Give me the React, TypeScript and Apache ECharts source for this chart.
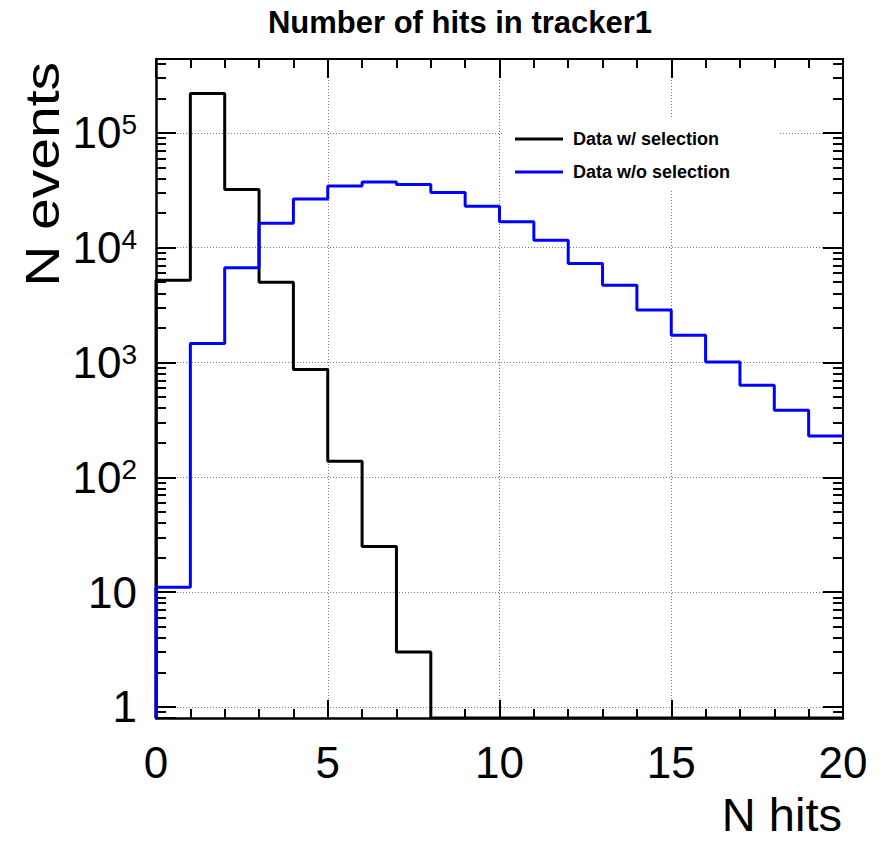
import React, { useEffect, useRef } from "react";
import * as echarts from "echarts";

// ---------- data ----------
const BIN_EDGES = [0, 1, 2, 3, 4, 5, 6, 7, 8, 9, 10, 11, 12, 13, 14, 15, 16, 17, 18, 19, 20];
const WITH_SELECTION = [5200, 220000, 32100, 5000, 870, 138, 25, 3, 0, 0, 0, 0, 0, 0, 0, 0, 0, 0, 0, 0];
const WITHOUT_SELECTION = [11, 1460, 6670, 16300, 26600, 34500, 37400, 35500, 30300, 23000, 16800, 11600, 7280, 4710, 2860, 1730, 1010, 634, 384, 229];
const SERIES_NAMES = ["Data w/ selection", "Data w/o selection"];
const X_TICK_LABELS = [0, 5, 10, 15, 20];
const Y_TICK_LABELS = [1, 10, 100, 1000, 10000, 100000];
const TITLE = "Number of hits in tracker1";
const X_TITLE = "N hits";
const Y_TITLE = "N events";

const X_MIN = 0;
const X_MAX = 20;
const X_INTERVAL = 5;
const Y_MIN = 0.8;
const Y_MAX = 4.4e5;

const SANS = '"Liberation Sans", Arial, Helvetica, sans-serif';

function histPoints(values: number[]): [number, number][] {
  const pts: [number, number][] = [[BIN_EDGES[0], Y_MIN]];
  values.forEach((v, i) => pts.push([BIN_EDGES[i], v > 0 ? v : Y_MIN]));
  const last = values[values.length - 1];
  pts.push([BIN_EDGES[values.length], last > 0 ? last : Y_MIN]);
  return pts;
}

const gridLine = {
  show: true,
  showMinLine: false,
  showMaxLine: false,
  lineStyle: { color: "#777", width: 1, type: [1, 2] as any },
};

const tickStyle = { color: "#000", width: 2 };

function xAxisDef(position: "bottom" | "top") {
  const bottom = position === "bottom";
  return {
    type: "value",
    position,
    min: X_MIN,
    max: X_MAX,
    interval: X_INTERVAL,
    axisLine: { show: true, onZero: false, lineStyle: { color: "#000", width: bottom ? 2.5 : 2 } },
    axisTick: { show: true, inside: true, length: bottom ? 18 : 19, lineStyle: tickStyle },
    minorTick: { show: true, splitNumber: 5, length: 9, lineStyle: tickStyle },
    axisLabel: bottom
      ? {
          show: true,
          margin: 22,
          color: "#000",
          fontFamily: SANS,
          fontSize: 44,
          showMinLabel: true,
          showMaxLabel: true,
          customValues: X_TICK_LABELS,
        }
      : { show: false },
    splitLine: bottom ? gridLine : { show: false },
    minorSplitLine: { show: false },
  };
}

function yAxisDef(position: "left" | "right") {
  const left = position === "left";
  return {
    type: "log",
    logBase: 10,
    position,
    min: Y_MIN,
    max: Y_MAX,
    axisLine: { show: true, onZero: false, lineStyle: { color: "#000", width: left ? 2.5 : 2 } },
    axisTick: { show: true, inside: true, length: 20, lineStyle: tickStyle },
    minorTick: { show: true, splitNumber: 9, length: 10, lineStyle: tickStyle },
    axisLabel: left
      ? {
          show: true,
          margin: 19,
          customValues: Y_TICK_LABELS,
          formatter: (v: number) => {
            const e = Math.round(Math.log10(v));
            if (e === 0) return "{b|1}";
            if (e === 1) return "{b|10}";
            return `{b|10}{s|${e}}`;
          },
          rich: {
            b: { fontFamily: SANS, fontSize: 44, lineHeight: 44, color: "#000" },
            s: { fontFamily: SANS, fontSize: 28, lineHeight: 10, color: "#000", verticalAlign: "top" },
          },
        }
      : { show: false },
    splitLine: left ? gridLine : { show: false },
    minorSplitLine: { show: false },
  };
}

export default function App() {
  const ref = useRef<HTMLDivElement>(null);
  useEffect(() => {
    document.body.style.margin = "0";
    if (!ref.current) return;
    const chart = echarts.init(ref.current, undefined, { renderer: "svg" });
    chart.setOption({
      animation: false,
      backgroundColor: "#fff",
      title: {
        text: TITLE,
        left: 460,
        top: 7,
        textAlign: "center",
        padding: 0,
        textStyle: { fontFamily: SANS, fontWeight: "bold", fontSize: 31, color: "#000" },
      },
      legend: {
        data: SERIES_NAMES,
        orient: "vertical",
        left: 502,
        top: 117,
        padding: [13, 50, 9, 13],
        backgroundColor: "#fff",
        borderWidth: 0,
        icon: "rect",
        itemWidth: 48,
        itemHeight: 3,
        itemGap: 15,
        selectedMode: false,
        textStyle: { fontFamily: SANS, fontWeight: "bold", fontSize: 18, color: "#000", padding: [0, 0, 0, 5] },
      },
      grid: { left: 156, top: 59, width: 687, height: 659, containLabel: false },
      xAxis: [xAxisDef("bottom"), xAxisDef("top")],
      yAxis: [yAxisDef("left"), yAxisDef("right")],
      graphic: [
        {
          type: "text",
          x: 42,
          y: 62,
          rotation: Math.PI / 2,
          scaleY: 0.86,
          style: { text: Y_TITLE, fontFamily: SANS, fontSize: 57, fill: "#000", align: "right", verticalAlign: "middle" },
        },
        {
          type: "text",
          x: 842,
          y: 814,
          style: { text: X_TITLE, fontFamily: SANS, fontSize: 47, fill: "#000", align: "right", verticalAlign: "middle" },
        },
      ],
      series: [
        {
          name: SERIES_NAMES[0],
          type: "line",
          step: "end",
          xAxisIndex: 0,
          yAxisIndex: 0,
          symbol: "none",
          color: "#000",
          lineStyle: { color: "#000", width: 3 },
          data: histPoints(WITH_SELECTION),
          clip: true,
          z: 3,
        },
        {
          name: SERIES_NAMES[1],
          type: "line",
          step: "end",
          xAxisIndex: 0,
          yAxisIndex: 0,
          symbol: "none",
          color: "#0000ff",
          lineStyle: { color: "#0000ff", width: 3 },
          data: histPoints(WITHOUT_SELECTION),
          clip: true,
          z: 3,
        },
      ],
    });
    return () => chart.dispose();
  }, []);
  return <div ref={ref} style={{ width: 885, height: 845 }} />;
}
